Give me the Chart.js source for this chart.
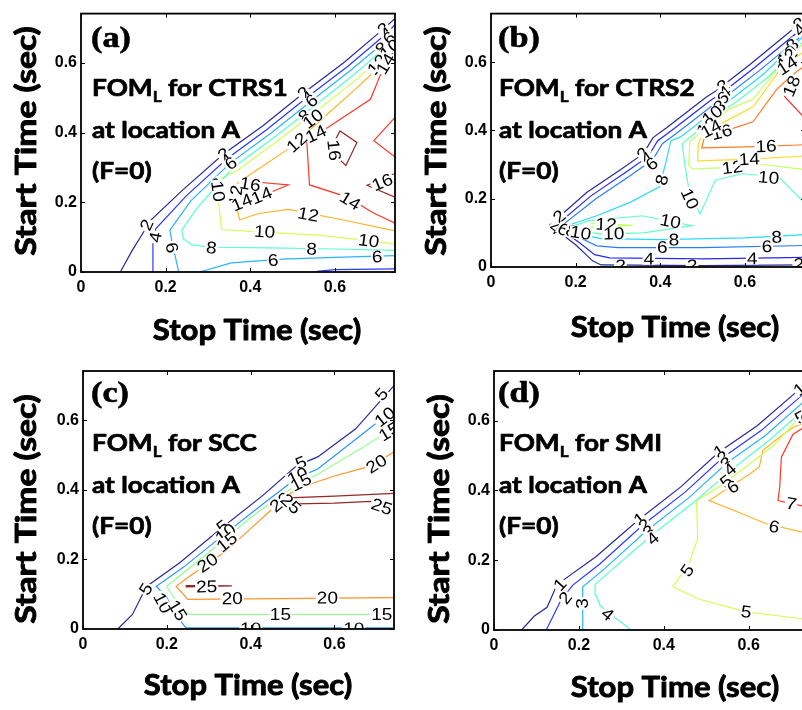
<!DOCTYPE html>
<html lang="en">
<head>
  <meta charset="UTF-8">
  <title>FOM_L contours at location A</title>
  <style>
    html, body {
      margin: 0;
      padding: 0;
      background: #fff;
      width: 802px;
      height: 710px;
      overflow: hidden;
    }
    canvas {
      position: absolute;
    }
  </style>
</head>
<body>
  <canvas id="cA" width="400" height="355" style="left:0;top:0"></canvas>
  <canvas id="cB" width="410" height="355" style="left:400px;top:0"></canvas>
  <canvas id="cC" width="400" height="355" style="left:0;top:355px"></canvas>
  <canvas id="cD" width="415" height="355" style="left:400px;top:355px"></canvas>

  <script src="https://cdn.jsdelivr.net/npm/chart.js"></script>
  <script>
    // both axes run from 0 to this value (seconds)
    const AXIS_MAX = 0.742;

    // ---- (a) CTRS1 : contour level, then [stop, start] points ----
    const levelsA = [2, 4, 6, 8, 10, 12, 14, 16];
    const linesA = [
      [2, [[0.093,0],[0.12,0.06],[0.148,0.115],[0.157,0.14],[0.24,0.235],[0.336,0.338],[0.43,0.42],[0.526,0.514],[0.62,0.6],[0.715,0.698],[0.742,0.728]]],
      [4, [[0.168,0],[0.17,0.08],[0.177,0.125],[0.25,0.22],[0.345,0.325],[0.44,0.41],[0.536,0.503],[0.63,0.59],[0.722,0.685],[0.742,0.71]]],
      [4, [[0.557,0.002],[0.6,0.007],[0.742,0.009]]],
      [6, [[0.231,0],[0.216,0.08],[0.21,0.12],[0.26,0.205],[0.352,0.312],[0.45,0.4],[0.545,0.492],[0.638,0.58],[0.728,0.672],[0.742,0.69]]],
      [6, [[0.28,0],[0.355,0.026],[0.474,0.037],[0.6,0.042],[0.742,0.047]]],
      [8, [[0.742,0.062],[0.6,0.066],[0.45,0.069],[0.31,0.071],[0.262,0.078],[0.242,0.095],[0.238,0.12],[0.275,0.185],[0.36,0.3],[0.46,0.39],[0.555,0.48],[0.646,0.568],[0.734,0.66],[0.742,0.672]]],
      [10, [[0.742,0.08],[0.68,0.09],[0.56,0.106],[0.44,0.114],[0.332,0.122],[0.325,0.2],[0.318,0.262],[0.368,0.29],[0.468,0.38],[0.563,0.468],[0.654,0.556],[0.742,0.652]]],
      [12, [[0.742,0.118],[0.617,0.15],[0.49,0.18],[0.42,0.168],[0.375,0.15],[0.365,0.2],[0.37,0.255],[0.4,0.28],[0.498,0.36],[0.57,0.44],[0.644,0.52],[0.684,0.565],[0.712,0.605],[0.742,0.635]]],
      [14, [[0.742,0.14],[0.69,0.17],[0.63,0.215],[0.54,0.25],[0.533,0.385],[0.577,0.41],[0.684,0.496],[0.708,0.568],[0.724,0.6],[0.742,0.622]]],
      [14, [[0.38,0.262],[0.49,0.25],[0.38,0.195]]],
      [14, [[0.742,0.444],[0.692,0.377],[0.742,0.33]]],
      [16, [[0.6,0.335],[0.597,0.37],[0.612,0.405],[0.652,0.372],[0.626,0.306],[0.6,0.335]]],
      [16, [[0.742,0.283],[0.676,0.249],[0.742,0.215]]],
      [16, [[0.382,0.258],[0.41,0.252],[0.384,0.246]]]
    ];
    const labelsA = [
      [2,0.155,0.135],[4,0.176,0.1],[6,0.215,0.07],[8,0.308,0.07],[10,0.434,0.116],[8,0.545,0.066],
      [6,0.454,0.034],[10,0.68,0.09],[6,0.7,0.044],[12,0.537,0.165],[14,0.427,0.22],[14,0.636,0.205],
      [16,0.712,0.258],[16,0.598,0.35],[14,0.555,0.397],[12,0.51,0.372],
      [2,0.337,0.338],[4,0.345,0.322],[6,0.354,0.312],[8,0.322,0.252],[10,0.324,0.232],[12,0.366,0.22],[14,0.38,0.2],[16,0.4,0.252],
      [2,0.526,0.514],[4,0.536,0.502],[6,0.545,0.492],[8,0.528,0.448],[10,0.548,0.44],
      [2,0.715,0.698],[4,0.722,0.685],[6,0.728,0.672],[8,0.71,0.642],[10,0.73,0.64],[12,0.7,0.596],[14,0.72,0.598]
    ];

    // ---- (b) CTRS2 ----
    const levelsB = [2, 4, 6, 8, 10, 12, 14, 16, 18, 20];
    const linesB = [
      [2, [[0.742,0.728],[0.714,0.697],[0.612,0.593],[0.533,0.517],[0.509,0.498],[0.415,0.408],[0.383,0.379],[0.36,0.332],[0.305,0.284],[0.226,0.218],[0.139,0.123],[0.2,0.065],[0.24,0.018],[0.26,0.006],[0.5,0.004],[0.742,0.006]]],
      [4, [[0.742,0.71],[0.725,0.688],[0.623,0.584],[0.544,0.508],[0.52,0.489],[0.426,0.399],[0.394,0.37],[0.371,0.323],[0.316,0.275],[0.237,0.209],[0.153,0.121],[0.21,0.07],[0.245,0.036],[0.28,0.027],[0.5,0.024],[0.742,0.028]]],
      [6, [[0.742,0.692],[0.736,0.679],[0.634,0.575],[0.555,0.499],[0.531,0.48],[0.437,0.39],[0.405,0.361],[0.382,0.314],[0.327,0.266],[0.248,0.2],[0.165,0.119],[0.22,0.08],[0.25,0.062],[0.3,0.057],[0.5,0.057],[0.742,0.063]]],
      [8, [[0.742,0.68],[0.645,0.566],[0.566,0.49],[0.542,0.471],[0.448,0.381],[0.425,0.37],[0.412,0.3],[0.398,0.235],[0.33,0.19],[0.25,0.15],[0.178,0.12],[0.225,0.092],[0.26,0.083],[0.4,0.08],[0.6,0.085],[0.742,0.095]]],
      [10, [[0.742,0.665],[0.656,0.557],[0.577,0.481],[0.553,0.462],[0.465,0.375],[0.452,0.36],[0.458,0.3],[0.468,0.226],[0.494,0.155],[0.53,0.254],[0.593,0.273],[0.68,0.264],[0.731,0.2],[0.742,0.19]]],
      [10, [[0.185,0.116],[0.23,0.135],[0.357,0.15],[0.475,0.121],[0.36,0.1],[0.26,0.096],[0.2,0.108],[0.185,0.116]]],
      [12, [[0.742,0.655],[0.706,0.624],[0.619,0.491],[0.564,0.463],[0.47,0.368],[0.467,0.3],[0.476,0.287],[0.538,0.29],[0.625,0.303],[0.742,0.285]]],
      [12, [[0.235,0.127],[0.335,0.122],[0.235,0.117]]],
      [14, [[0.742,0.632],[0.69,0.59],[0.62,0.47],[0.56,0.43],[0.5,0.39],[0.49,0.36],[0.488,0.311],[0.6,0.315],[0.742,0.325]]],
      [16, [[0.742,0.59],[0.71,0.56],[0.675,0.52],[0.619,0.425],[0.572,0.406],[0.505,0.385],[0.498,0.349],[0.6,0.352],[0.742,0.358]]],
      [18, [[0.716,0.565],[0.694,0.499],[0.742,0.435]]]
    ];
    const labelsB = [
      [2,0.161,0.148],[4,0.152,0.114],[6,0.171,0.11],[8,0.19,0.105],[10,0.212,0.1],[12,0.272,0.125],
      [10,0.29,0.098],[10,0.424,0.134],[8,0.432,0.08],[6,0.405,0.057],[4,0.373,0.024],[2,0.306,0.004],
      [2,0.475,0.004],[4,0.617,0.025],[6,0.652,0.06],[8,0.675,0.088],[2,0.727,0.008],[10,0.47,0.2],
      [10,0.656,0.262],[12,0.57,0.292],[14,0.61,0.316],[16,0.65,0.354],[16,0.545,0.395],
      [2,0.36,0.333],[4,0.368,0.318],[6,0.38,0.302],[8,0.404,0.255],
      [2,0.548,0.53],[4,0.552,0.512],[6,0.548,0.495],[8,0.54,0.47],[10,0.523,0.445],[12,0.51,0.41],[14,0.52,0.405],
      [2,0.728,0.712],[4,0.73,0.695],[8,0.712,0.65],[10,0.7,0.62],[12,0.7,0.61],[14,0.7,0.59],[18,0.71,0.53]
    ];

    // ---- (c) SCC ----
    const levelsC = [5, 10, 15, 20, 25];
    const linesC = [
      [5, [[0.083,0],[0.118,0.042],[0.14,0.095],[0.155,0.125],[0.23,0.19],[0.33,0.29],[0.43,0.385],[0.51,0.47],[0.56,0.495],[0.65,0.575],[0.742,0.7]]],
      [10, [[0.742,0.632],[0.65,0.545],[0.56,0.46],[0.51,0.434],[0.43,0.36],[0.34,0.275],[0.24,0.178],[0.175,0.123],[0.2,0.09],[0.222,0.04],[0.245,0.004],[0.742,0.003]]],
      [15, [[0.742,0.578],[0.65,0.51],[0.56,0.445],[0.51,0.415],[0.41,0.33],[0.31,0.23],[0.2,0.123],[0.232,0.06],[0.255,0.042],[0.742,0.042]]],
      [20, [[0.742,0.51],[0.69,0.47],[0.6,0.44],[0.55,0.42],[0.51,0.405],[0.465,0.36],[0.385,0.272],[0.33,0.215],[0.26,0.157],[0.222,0.123],[0.25,0.085],[0.742,0.09]]],
      [25, [[0.742,0.39],[0.6,0.382],[0.49,0.377],[0.505,0.36],[0.6,0.362],[0.686,0.367],[0.742,0.344]]],
      [25, [[0.245,0.125],[0.355,0.124],[0.245,0.121]]]
    ];
    const labelsC = [
      [5,0.15,0.115],[10,0.19,0.075],[15,0.226,0.054],[25,0.295,0.122],[20,0.356,0.088],[20,0.583,0.09],
      [15,0.471,0.042],[15,0.713,0.042],[10,0.4,0.001],[10,0.646,0.001],[20,0.297,0.19],
      [5,0.333,0.295],[10,0.34,0.275],[15,0.343,0.25],[20,0.47,0.365],[25,0.496,0.36],
      [5,0.52,0.478],[10,0.512,0.44],[15,0.52,0.422],[20,0.7,0.475],[25,0.713,0.352],
      [5,0.712,0.675],[10,0.72,0.61],[15,0.73,0.568]
    ];

    // ---- (d) SMI ----
    const levelsD = [1, 2, 3, 4, 5, 6, 7, 8];
    const linesD = [
      [1, [[0.065,0],[0.095,0.04],[0.125,0.065],[0.145,0.12],[0.16,0.14],[0.24,0.21],[0.34,0.315],[0.44,0.41],[0.53,0.51],[0.62,0.585],[0.72,0.69],[0.742,0.71]]],
      [2, [[0.123,0],[0.158,0.086],[0.185,0.128],[0.25,0.19],[0.35,0.3],[0.45,0.395],[0.54,0.495],[0.63,0.572],[0.728,0.675],[0.742,0.688]]],
      [3, [[0.209,0],[0.209,0.124],[0.26,0.175],[0.36,0.285],[0.46,0.38],[0.55,0.48],[0.64,0.558],[0.735,0.66],[0.742,0.668]]],
      [4, [[0.323,0],[0.28,0.04],[0.25,0.07],[0.24,0.1],[0.238,0.13],[0.28,0.175],[0.37,0.27],[0.47,0.365],[0.56,0.46],[0.65,0.545],[0.742,0.645]]],
      [5, [[0.742,0.03],[0.72,0.033],[0.594,0.052],[0.484,0.088],[0.421,0.124],[0.46,0.19],[0.47,0.23],[0.48,0.26],[0.477,0.371],[0.53,0.41],[0.58,0.455],[0.66,0.53],[0.72,0.61],[0.742,0.625]]],
      [6, [[0.742,0.28],[0.72,0.282],[0.64,0.305],[0.58,0.335],[0.507,0.371],[0.555,0.41],[0.6,0.445],[0.625,0.467],[0.633,0.514],[0.67,0.55],[0.704,0.58],[0.742,0.6]]],
      [7, [[0.742,0.352],[0.7,0.362],[0.669,0.371],[0.673,0.41],[0.677,0.495],[0.704,0.56],[0.742,0.59]]]
    ];
    const labelsD = [
      [1,0.155,0.13],[2,0.168,0.092],[3,0.209,0.076],[4,0.268,0.045],[5,0.455,0.171],[5,0.594,0.052],
      [6,0.66,0.296],[7,0.7,0.362],
      [1,0.343,0.318],[2,0.355,0.3],[3,0.365,0.282],[4,0.374,0.262],
      [1,0.531,0.512],[2,0.54,0.495],[3,0.548,0.478],[4,0.556,0.46],[5,0.547,0.425],[6,0.563,0.41],
      [1,0.72,0.69],[5,0.722,0.61],[6,0.735,0.605]
    ];

    const panelTags = ['(a)', '(b)', '(c)', '(d)'];
    const panelNames = ['CTRS1', 'CTRS2', 'SCC', 'SMI'];

    // MATLAB style jet colormap, softened a little towards white
    function jet(t) {
      const c = v => {
        const k = Math.max(0, Math.min(1, 1.5 - Math.abs(4 * t - v)));
        return Math.round(255 * (0.84 * k + 0.16));
      };
      return 'rgb(' + c(3) + ',' + c(2) + ',' + c(1) + ')';
    }

    function segDist(px, py, x1, y1, x2, y2) {
      const dx = x2 - x1, dy = y2 - y1;
      const len = dx * dx + dy * dy || 1;
      const t = Math.max(0, Math.min(1, ((px - x1) * dx + (py - y1) * dy) / len));
      return Math.hypot(px - x1 - t * dx, py - y1 - t * dy);
    }

    // heavy caption text, stretched horizontally as in the exported figure
    function stretchText(ctx, str, x, y, font, sx, heavy) {
      ctx.save();
      ctx.font = font;
      ctx.translate(x, y);
      ctx.scale(sx, 1);
      ctx.fillText(str, 0, 0);
      if (heavy) {
        ctx.lineWidth = heavy;
        ctx.strokeStyle = '#000';
        ctx.lineJoin = 'round';
        ctx.strokeText(str, 0, 0);
      }
      ctx.restore();
      ctx.font = font;
      return ctx.measureText(str).width * sx;
    }

    // inline contour labels, turned along the nearest piece of their own line
    const contourText = {
      id: 'contourText',
      afterDatasetsDraw(chart, args, opts) {
        const {ctx, chartArea: a, scales: {x, y}} = chart;
        ctx.save();
        ctx.beginPath();
        ctx.rect(a.left, a.top, a.right - a.left, a.bottom - a.top);
        ctx.clip();
        ctx.font = '17px "Liberation Sans", Arial, sans-serif';
        ctx.textAlign = 'center';
        ctx.textBaseline = 'middle';
        for (const [lv, vx, vy] of opts.labels) {
          const px = x.getPixelForValue(vx), py = y.getPixelForValue(vy);
          let best = Infinity, ang = 0;
          for (const [l, pts] of opts.lines) {
            if (l !== lv) continue;
            for (let i = 1; i < pts.length; i++) {
              const x1 = x.getPixelForValue(pts[i - 1][0]), y1 = y.getPixelForValue(pts[i - 1][1]);
              const x2 = x.getPixelForValue(pts[i][0]), y2 = y.getPixelForValue(pts[i][1]);
              const d = segDist(px, py, x1, y1, x2, y2);
              if (d < best) { best = d; ang = Math.atan2(y2 - y1, x2 - x1); }
            }
          }
          if (ang > Math.PI / 2) ang -= Math.PI;
          if (ang < -Math.PI / 2) ang += Math.PI;
          const txt = String(lv);
          const w = ctx.measureText(txt).width * 1.12;
          ctx.save();
          ctx.translate(px, py);
          ctx.rotate(ang);
          ctx.fillStyle = '#fff';
          ctx.fillRect(-w / 2 - 1, -6, w + 2, 12);
          ctx.scale(1.12, 1);
          ctx.fillStyle = '#000';
          ctx.fillText(txt, 0, 1);
          ctx.restore();
        }
        ctx.restore();
      }
    };

    // axes box with inward ticks, panel caption and axis titles
    const frame = {
      id: 'frame',
      afterDraw(chart, args, o) {
        const {ctx, chartArea: a, scales: {x, y}} = chart;
        ctx.save();
        ctx.strokeStyle = '#000';
        ctx.lineWidth = 1;
        ctx.beginPath();
        for (const t of x.ticks) {
          const p = Math.round(x.getPixelForValue(t.value)) + 0.5;
          ctx.moveTo(p, a.bottom); ctx.lineTo(p, a.bottom - 4);
          ctx.moveTo(p, a.top); ctx.lineTo(p, a.top + 4);
        }
        for (const t of y.ticks) {
          const p = Math.round(y.getPixelForValue(t.value)) + 0.5;
          ctx.moveTo(a.left, p); ctx.lineTo(a.left + 4, p);
          ctx.moveTo(a.right, p); ctx.lineTo(a.right - 4, p);
        }
        ctx.stroke();
        ctx.lineWidth = 1.8;
        ctx.strokeRect(a.left, a.top, a.right - a.left, a.bottom - a.top);

        ctx.fillStyle = '#000';
        ctx.textAlign = 'left';
        ctx.textBaseline = 'alphabetic';
        stretchText(ctx, o.tag, o.tx - 1, 47, 'bold 29px "Liberation Serif", "Times New Roman", serif', 1.18, 0.6);
        const big = 'bold 23px Lato, sans-serif';
        let cx = o.tx;
        cx += stretchText(ctx, 'FOM', cx, 96, big, 1.14, 0.7);
        cx += stretchText(ctx, 'L', cx, 102, 'bold 15px Lato, sans-serif', 1.14, 0.5);
        stretchText(ctx, ' for ' + o.name, cx, 96, big, 1.14, 0.7);
        stretchText(ctx, 'at location A', o.tx, 138, big, 1.14, 0.7);
        stretchText(ctx, '(F=0)', o.tx, 179, big, 1.14, 0.7);

        ctx.textAlign = 'center';
        stretchText(ctx, 'Stop Time (sec)', o.xtx, o.xty, 'bold 29px Lato, sans-serif', 1.07, 0.9);
        ctx.save();
        ctx.translate(o.ytx, o.yty);
        ctx.rotate(-Math.PI / 2);
        stretchText(ctx, 'Start Time (sec)', 0, 0, 'bold 29px Lato, sans-serif', 1.16, 0.9);
        ctx.restore();
        ctx.restore();
      }
    };

    function drawPanel(id, idx, levels, lines, labels, box) {
      const lo = levels[0], hi = levels[levels.length - 1];
      const datasets = lines.map(([lv, pts]) => ({
        data: pts.map(([sx, sy]) => ({x: sx, y: sy})),
        showLine: true,
        borderColor: jet((lv - lo) / (hi - lo)),
        borderWidth: 1.2,
        pointRadius: 0,
        tension: 0
      }));
      const tickFont = {family: '"Liberation Sans", Arial, sans-serif', weight: 'bold', size: 16};
      new Chart(document.getElementById(id), {
        type: 'scatter',
        data: {datasets},
        options: {
          responsive: false,
          animation: false,
          events: [],
          layout: {padding: {top: box.pt, right: box.pr, left: 0, bottom: 0}},
          plugins: {
            legend: {display: false},
            tooltip: {enabled: false},
            contourText: {labels, lines},
            frame: {
              tag: panelTags[idx], name: panelNames[idx], tx: box.tx,
              xtx: box.xtx, xty: box.xty, ytx: box.ytx, yty: box.yty
            }
          },
          scales: {
            x: {
              type: 'linear', min: 0, max: AXIS_MAX,
              afterFit: s => { s.height = box.xh; },
              grid: {display: false, drawTicks: false},
              border: {display: false},
              ticks: {stepSize: 0.2, includeBounds: false, maxRotation: 0, autoSkip: false, padding: 6, color: '#000', font: tickFont}
            },
            y: {
              type: 'linear', min: 0, max: AXIS_MAX,
              afterFit: s => { s.width = box.yw; },
              grid: {display: false, drawTicks: false},
              border: {display: false},
              ticks: {stepSize: 0.2, includeBounds: false, autoSkip: false, padding: 4, color: '#000', font: tickFont}
            }
          }
        },
        plugins: [contourText, frame]
      });
    }

    drawPanel('cA', 0, levelsA, linesA, labelsA,
      {yw: 81, xh: 83, pt: 11, pr: 5, tx: 92, xtx: 257, xty: 340, ytx: 36, yty: 141});
    drawPanel('cB', 1, levelsB, linesB, labelsB,
      {yw: 91, xh: 88, pt: 6, pr: 5, tx: 99, xtx: 275, xty: 337, ytx: 46, yty: 141});
    drawPanel('cC', 2, levelsC, linesC, labelsC,
      {yw: 83, xh: 81, pt: 16, pr: 6, tx: 92, xtx: 248, xty: 340, ytx: 36, yty: 154});
    drawPanel('cD', 3, levelsD, linesD, labelsD,
      {yw: 94, xh: 80, pt: 16, pr: 6, tx: 99, xtx: 275, xty: 342, ytx: 49, yty: 154});
  </script>
</body>
</html>
